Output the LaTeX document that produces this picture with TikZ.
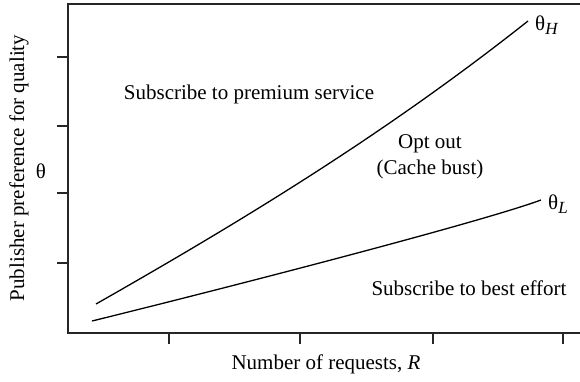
\documentclass[tikz,border=0pt]{standalone}
\usepackage{fontspec}
\setmainfont{Liberation Serif}
\newcommand{\sublab}[1]{\raisebox{-0.35ex}{\fontsize{17}{17}\selectfont\itshape #1}}
\begin{document}
\begin{tikzpicture}[x=1pt,y=-1pt,
  axisline/.style={line width=1.4pt,black!85},
  tickline/.style={line width=1.2pt,black!85},
  curveline/.style={line width=1.3pt,black},
  lab/.style={inner sep=0pt,font=\fontsize{21}{26}\selectfont,align=center}]
\useasboundingbox (0,0) rectangle (580,381);
% frame (open on the right)
\draw[axisline] (580,4) -- (68,4) -- (68,333) -- (580,333);
% ticks
\foreach \x in {169,300,433,563} \draw[tickline] (\x,333) -- (\x,344);
\foreach \y in {57,126,193,263} \draw[tickline] (57,\y) -- (68,\y);
% curves
\coordinate (hs) at (96,304);
\coordinate (he) at (528,21);
\coordinate (ls) at (92,321);
\coordinate (le) at (541,200);
\draw[curveline] (hs) .. controls (240,222) and (384,135) .. (he);
\draw[curveline] (ls) .. controls (242,284) and (481,222) .. (le);
% labels
\node[lab,anchor=west] (th) at (535,25) {θ\sublab{H}};
\node[lab,anchor=west] (tl) at (548,204) {θ\sublab{L}};
\node[lab] (prem) at (249,94) {Subscribe to premium service};
\node[lab] (opt) at (430,157) {Opt out\\(Cache bust)};
\node[lab] (best) at (469,288) {Subscribe to best effort};
\node[lab] (xl) at (326,364) {Number of requests, \textit{R}};
\node[lab,rotate=90] (yl) at (19,168) {Publisher preference for quality};
\node[lab] (yt) at (41,171) {θ};
\end{tikzpicture}
\end{document}
